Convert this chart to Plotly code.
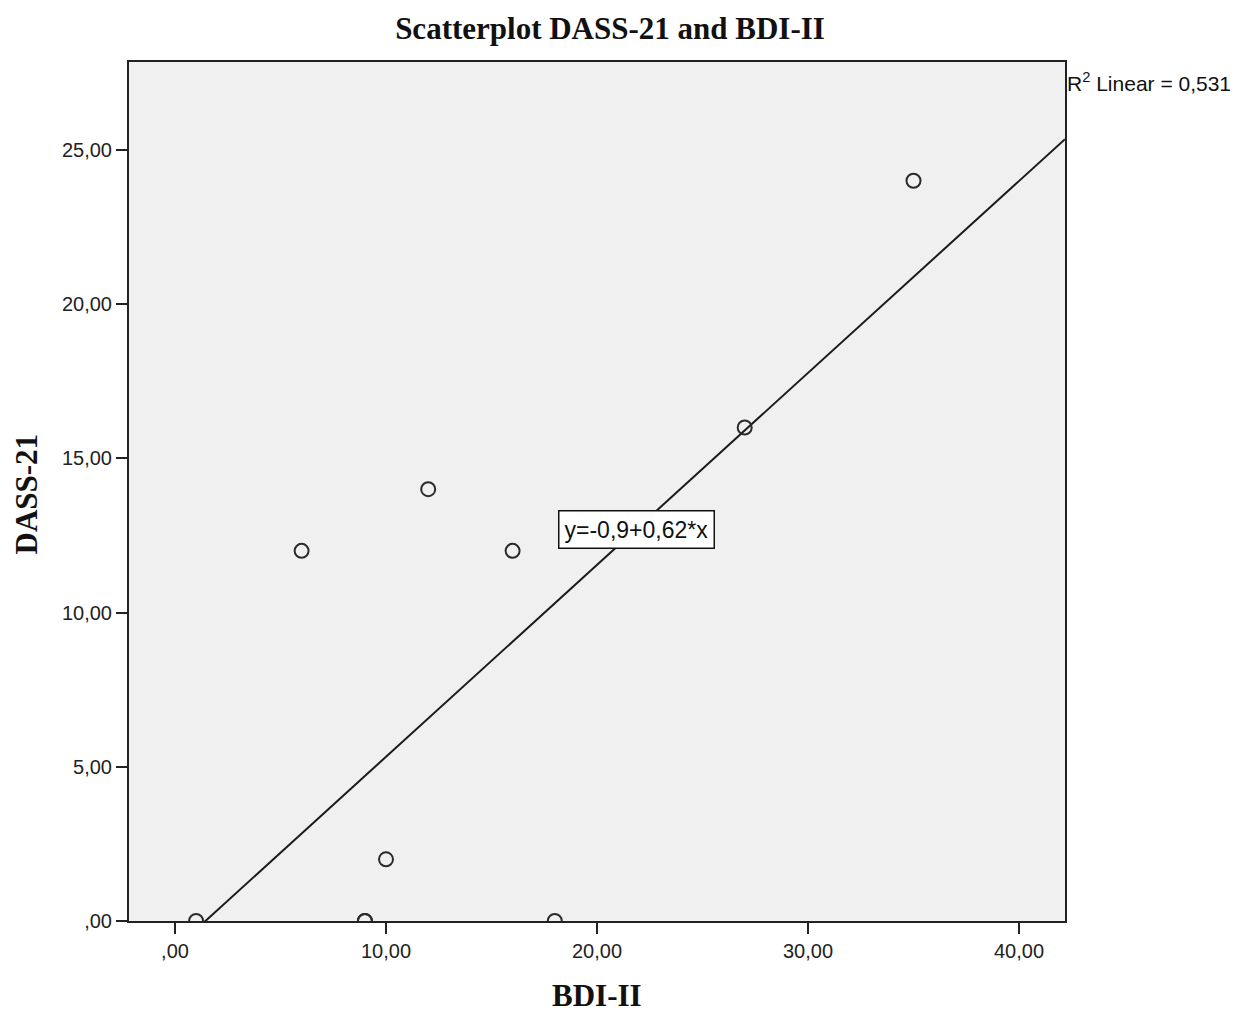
import numpy as np
import plotly.graph_objects as go

# Data
bdi_ii = [1, 6, 9, 9, 10, 12, 16, 18, 27, 35]
dass_21 = [0, 12, 0, 0, 2, 14, 12, 0, 16, 24]

x_tick_vals = [0, 10, 20, 30, 40]
x_tick_text = [",00", "10,00", "20,00", "30,00", "40,00"]
y_tick_vals = [0, 5, 10, 15, 20, 25]
y_tick_text = [",00", "5,00", "10,00", "15,00", "20,00", "25,00"]

x_range = [-2.18, 42.18]
y_range = [0, 27.85]

title_text = "Scatterplot DASS-21 and BDI-II"
x_title = "BDI-II"
y_title = "DASS-21"
fit_label = "y=-0,9+0,62*x"
r2_label = "R<sup>2</sup> Linear = 0,531"

# Linear fit from data
slope, intercept = np.polyfit(bdi_ii, dass_21, 1)
fit_x = np.array(x_range)
fit_y = intercept + slope * fit_x

fig = go.Figure()
fig.add_trace(go.Scatter(
    x=list(fit_x), y=list(fit_y), mode="lines",
    line=dict(color="#1a1a1a", width=2), hoverinfo="skip", showlegend=False,
))
fig.add_trace(go.Scatter(
    x=bdi_ii, y=dass_21, mode="markers",
    marker=dict(symbol="circle-open", size=14, color="#2a2a2a", line=dict(width=2)),
    showlegend=False, cliponaxis=True,
))

serif = "Liberation Serif, Times New Roman, serif"
sans = "Liberation Sans, Arial, sans-serif"

# page has an 8px body margin; figure sized to fit the window
W, H = 1241, 1006
fig.update_layout(
    width=W, height=H,
    margin=dict(l=121, r=184, t=54, b=93),
    paper_bgcolor="white", plot_bgcolor="#F0F0F0",
    title=dict(text="<b>" + title_text + "</b>", x=602 / W, xanchor="center",
               y=1 - 20 / H, yanchor="middle",
               font=dict(family=serif, size=31, color="#111")),
    showlegend=False,
)
axis_common = dict(
    ticks="outside", ticklen=11, tickwidth=2, tickcolor="#222",
    showgrid=False, zeroline=False, showline=True, linecolor="#222", linewidth=2,
    mirror=True,
    tickfont=dict(family=sans, size=20, color="#222"),
)
fig.update_xaxes(range=x_range, tickvals=x_tick_vals, ticktext=x_tick_text, **axis_common)
fig.update_yaxes(range=y_range, tickvals=y_tick_vals, ticktext=y_tick_text, **axis_common)

fig.add_annotation(
    x=0.5, y=0, xref="paper", yref="paper", text="<b>" + x_title + "</b>",
    showarrow=False, xanchor="center", yanchor="middle", yshift=-74,
    font=dict(family=serif, size=31, color="#111"),
)
fig.add_annotation(
    x=0, y=0.5, xref="paper", yref="paper", text="<b>" + y_title + "</b>",
    showarrow=False, xanchor="center", yanchor="middle", xshift=-103, yshift=-3,
    textangle=-90,
    font=dict(family=serif, size=31, color="#111"),
)
fig.add_annotation(
    x=21.87, y=12.68, xref="x", yref="y", text=fit_label, showarrow=False,
    font=dict(family=sans, size=23, color="#111"),
    bgcolor="white", bordercolor="#111", borderwidth=1.5, borderpad=5,
)
fig.add_annotation(
    x=1.0, y=1, xref="paper", yref="paper", text=r2_label, showarrow=False,
    xanchor="left", yanchor="middle", yshift=-20,
    font=dict(family=sans, size=21, color="#111"),
)

fig.write_html("out.html")
